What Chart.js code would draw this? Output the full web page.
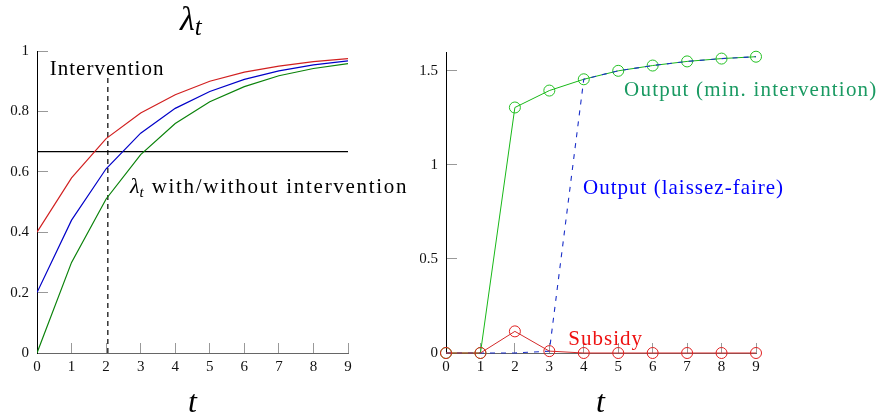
<!DOCTYPE html>
<html>
<head>
<meta charset="UTF-8">
<title>lambda and output</title>
<script src="https://cdn.jsdelivr.net/npm/chart.js"></script>
<style>
  body { margin: 0; background: #fff; }
  #wrap { position: relative; width: 884px; height: 419px; }
  canvas { position: absolute; top: 0; }
</style>
</head>
<body>
<div id="wrap">
  <canvas id="lambdaChart" width="420" height="419" style="left:0"></canvas>
  <canvas id="outputChart" width="464" height="419" style="left:420px"></canvas>
</div>
<script>
// periods
const periods = [0, 1, 2, 3, 4, 5, 6, 7, 8, 9];

// left panel: lambda_t paths
const lambdaRed   = [0.40, 0.58, 0.71, 0.795, 0.855, 0.90, 0.93, 0.95, 0.965, 0.975];
const lambdaBlue  = [0.20, 0.44, 0.61, 0.728, 0.81, 0.866, 0.906, 0.934, 0.954, 0.967];
const lambdaGreen = [0.00, 0.30, 0.51, 0.657, 0.76, 0.832, 0.882, 0.918, 0.942, 0.958];
const threshold = 0.667;
const interventionT = 2.05;
const interventionTop = 0.92;
const lambdaTicks = [0, 0.2, 0.4, 0.6, 0.8, 1];

// right panel: output and subsidy
const outputMin    = [0, 0, 1.305, 1.395, 1.455, 1.50, 1.528, 1.55, 1.565, 1.575];
const outputLaissez = [0, 0, 0, 0.01, 1.455, 1.50, 1.528, 1.55, 1.565, 1.575];
const subsidy      = [0, 0, 0.115, 0.01, 0, 0, 0, 0, 0, 0];
const outputTicks = [0, 0.5, 1, 1.5];

const serif = "'Liberation Serif', 'DejaVu Serif', serif";

function pts(ys) {
  return periods.map((t, i) => ({ x: t, y: ys[i] }));
}

// draws free text labels at data coordinates
const textPlugin = {
  id: 'texts',
  afterDraw(chart, args, opts) {
    const ctx = chart.ctx;
    const xs = chart.scales.x, ys = chart.scales.y;
    ctx.save();
    ctx.textBaseline = 'alphabetic';
    (opts.items || []).forEach(it => {
      let x = it.px !== undefined ? it.px : xs.getPixelForValue(it.x);
      let y = it.py !== undefined ? it.py : ys.getPixelForValue(it.y);
      ctx.fillStyle = it.color || '#000';
      ctx.textAlign = 'left';
      it.parts.forEach(p => {
        ctx.font = (p.italic ? 'italic ' : '') + p.size + 'px ' + serif;
        ctx.letterSpacing = (p.spacing || 0) + 'px';
        ctx.fillText(p.text, x, y + (p.dy || 0));
        x += ctx.measureText(p.text).width + (p.gap || 0);
      });
    });
    ctx.restore();
  }
};

function axes(yMin, yMax, yTicks, yWidth) {
  return {
    x: {
      type: 'linear', min: 0, max: 9,
      afterFit(s) { s.height = 30; },
      border: { color: '#666', width: 1 },
      grid: { drawOnChartArea: false, tickLength: -10, color: '#999', tickColor: '#999' },
      ticks: { stepSize: 1, padding: 15, color: '#111', font: { family: serif, size: 15 } }
    },
    y: {
      type: 'linear', min: yMin, max: yMax,
      afterFit(s) { s.width = yWidth; },
      afterBuildTicks(s) { s.ticks = yTicks.map(v => ({ value: v })); },
      border: { color: '#000', width: 1 },
      grid: { drawOnChartArea: false, tickLength: -11, color: '#999', tickColor: '#999' },
      ticks: { padding: 19, color: '#111', font: { family: serif, size: 15 },
               callback: v => String(+v.toFixed(2)) }
    }
  };
}

new Chart(document.getElementById('lambdaChart'), {
  type: 'line',
  data: {
    datasets: [
      { data: pts(lambdaRed), borderColor: '#d11f1f', borderWidth: 1.2, pointRadius: 0, tension: 0 },
      { data: pts(lambdaBlue), borderColor: '#0000c8', borderWidth: 1.2, pointRadius: 0 },
      { data: pts(lambdaGreen), borderColor: '#0a820a', borderWidth: 1.2, pointRadius: 0 },
      { data: [{ x: 0, y: threshold }, { x: 9, y: threshold }], borderColor: '#000', borderWidth: 1.2, pointRadius: 0 },
      { data: [{ x: interventionT, y: 0 }, { x: interventionT, y: interventionTop }], borderColor: '#000', borderWidth: 1.2, borderDash: [5, 4], pointRadius: 0 }
    ]
  },
  options: {
    responsive: false, animation: false,
    layout: { padding: { left: 0, right: 72, top: 51, bottom: 36 } },
    plugins: {
      legend: { display: false }, tooltip: { enabled: false },
      texts: {
        items: [
          { x: 0.37, y: 0.92, parts: [{ text: 'Intervention', size: 21, spacing: 1 }] },
          { x: 2.69, y: 0.53, parts: [{ text: 'λ', size: 22, italic: true }, { text: 't', size: 15, italic: true, dy: 4, gap: 8 },
                                       { text: 'with/without intervention', size: 21, spacing: 1.7 }] },
          { px: 180, py: 30, parts: [{ text: 'λ', size: 34, italic: true }, { text: 't', size: 25, italic: true, dy: 5 }] },
          { px: 188, py: 412, parts: [{ text: 't', size: 32, italic: true }] }
        ]
      }
    },
    scales: axes(0, 1, lambdaTicks, 37)
  },
  plugins: [textPlugin]
});

new Chart(document.getElementById('outputChart'), {
  type: 'line',
  data: {
    datasets: [
      { data: pts(subsidy), borderColor: '#d42a2a', borderWidth: 1, pointRadius: 5.5, pointBorderWidth: 1,
        pointBorderColor: '#e02020', pointBackgroundColor: 'rgba(0,0,0,0)', clip: false },
      { data: pts(outputLaissez), borderColor: '#1a2fc8', borderWidth: 1.1, borderDash: [5, 6], pointRadius: 0, clip: false },
      { data: pts(outputMin), borderColor: '#18b818', borderWidth: 1, pointRadius: 5.5, pointBorderWidth: 1,
        pointBorderColor: '#22c022', pointBackgroundColor: 'rgba(0,0,0,0)', clip: false }
    ]
  },
  options: {
    responsive: false, animation: false,
    layout: { padding: { left: 0, right: 128, top: 52, bottom: 36 } },
    plugins: {
      legend: { display: false }, tooltip: { enabled: false },
      texts: {
        items: [
          { x: 5.17, y: 1.366, color: '#1a9a62', parts: [{ text: 'Output (min. intervention)', size: 21, spacing: 1.2 }] },
          { x: 3.98, y: 0.846, color: '#0000ff', parts: [{ text: 'Output (laissez-faire)', size: 21, spacing: 1 }] },
          { x: 3.55, y: 0.04, color: '#ee1111', parts: [{ text: 'Subsidy', size: 21, spacing: 1 }] },
          { px: 176, py: 412, parts: [{ text: 't', size: 32, italic: true }] }
        ]
      }
    },
    scales: axes(0, 1.6, outputTicks, 26)
  },
  plugins: [textPlugin]
});
</script>
</body>
</html>
